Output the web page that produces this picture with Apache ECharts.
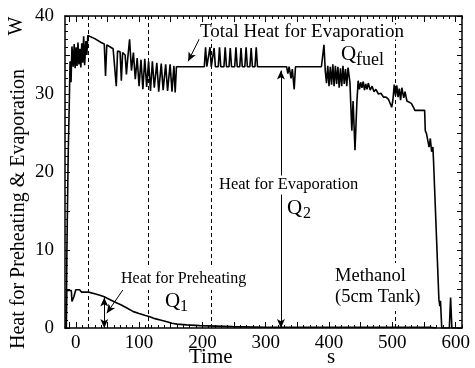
<!DOCTYPE html>
<html><head><meta charset="utf-8">
<script src="https://cdn.jsdelivr.net/npm/echarts@6/dist/echarts.min.js"></script>
<style>html,body{margin:0;padding:0;background:#fff}#c{width:475px;height:368px}</style>
</head><body><div id="c"></div>
<script>
// ---- data ----
const timeFuel = [-15,-14,-12,-10,-9,-7.5,-6,-4,-2.5,-1,0.5,2,3.5,5,6.5,8,9.5,11,12.5,14,16,17.5,19,30,40,45,47,49,55,59,62,64,66,70,72,74,78,80,82,85,88,91,94,97,100,103,106,109,112,115,118,121,124,128,131,135,138,142,145,149,152,155,157,159,
  203,205,207, 210,212,214, 216.5,218.5,220.5, 225,227,229, 234,236,238, 242,244,246, 251,253,255, 259,261,263, 267,269,271, 275,277,279, 283,285,287,
  333,335,337,340,342,345,347,388,390,392,394,396,398,400,402,404,406,408,410,412,414,416,418,420,422,424,426,428,430,433,436,438,441,444,446,448,450,452,454,456,458,460,462,465,468,471,474,478,482,486,490,494,497,499,501,503,505,507,509,511,513,515,518,520,523,526,530,534,535.5,551,552,554,556,558,560,562,564,565,573.5,575,576,578,590,592,594,610];
const qFuel = [0,10,22,29.8,34.2,31.5,36.1,33.5,36.4,33.3,36.0,33.6,36.6,33.8,35.8,33.4,36.5,34,37.4,33.7,36.8,35,37.5,37.1,36.6,36.4,32.3,36.3,36.0,35.8,35.7,31.0,35.5,35.4,31.7,35.3,35.0,32.5,34.5,37.0,33.0,35.3,31.9,34.6,31.0,34.4,30.6,34.5,30.9,34.2,30.4,34.2,30.8,34.0,30.3,33.9,30.5,33.8,30.4,33.8,30.3,33.6,30.2,33.5,
  33.5,36.0,33.5, 33.5,36.0,33.5, 33.5,35.9,33.5, 33.5,36.0,33.5, 33.5,36.0,33.5, 33.5,35.9,33.5, 33.5,36.0,33.5, 33.5,35.9,33.5, 33.5,36.0,33.5, 33.5,35.9,33.5, 33.5,36.0,33.5,
  33.5,32.6,33.5,32.0,33.2,30.6,33.5,33.5,34.9,36.3,33.0,31.4,33.6,31.0,33.5,31.2,33.8,31.0,33.6,31.3,33.5,30.8,33.3,31.0,33.6,31.3,33.2,31.0,33.4,31.5,25.3,29.1,22.8,29.0,31.7,30.6,31.5,30.8,31.6,30.5,31.3,30.6,31.4,30.5,31.0,30.3,30.6,30.0,30.1,29.6,29.6,29.3,29.5,28.3,29.3,31.2,29.8,31.1,29.6,30.7,29.2,30.8,29.5,30.3,29.1,29.3,28.8,28.2,27.9,27.9,25.3,24.9,25.0,23.2,24.3,22.6,23.2,21.5,3.7,2.8,3.5,0,0,3.9,0,0];
const timePre = [-15,-14.5,-7,-6,-3,0,3,6,9,12,16,20,30,38,45,55,65,72,80,91,100,110,117,125,135,144,152,160,175,196,248,300,560,570];
const qPre = [0,4.8,4.8,3.4,4.0,4.9,4.8,4.9,4.6,4.8,4.6,4.6,4.4,4.2,4.0,3.6,3.2,2.95,2.6,2.1,1.85,1.6,1.45,1.2,1.0,0.8,0.6,0.5,0.4,0.3,0.17,0.1,0.1,0];
const dashedTimes = [20, 115, 214, 504];
const xTicks = [0,100,200,300,400,500,600];
const yTicks = [0,10,20,30,40];
const xMid = [-10,0,50,100,150,200,250,300,350,400,450,500,550,600];
const xMinor = [];
for (let v = -10; v <= 610; v += 10) xMinor.push(v);

const FONT = 'Liberation Serif';
const pairs = (xs, ys) => xs.map((x, i) => [x, ys[i]]);
const XMIN = -17, XMAX = 610;

const chart = echarts.init(document.getElementById('c'), null, {renderer: 'canvas'});
const lab = {color:'#000', fontFamily: FONT, fontSize: 19};
function xAx(pos, ticks, len, showLine, labels) {
  return {type:'value', position: pos, min: XMIN, max: XMAX, gridIndex:0,
    axisLine:{show: showLine, onZero:false, lineStyle:{color:'#000', width:1.5}},
    axisTick:{show:true, inside:true, length: len, customValues: ticks, lineStyle:{color:'#000', width:1}},
    axisLabel: labels ? Object.assign({show:true, customValues: xTicks, margin: 6}, lab) : {show:false},
    splitLine:{show:false}};
}
function yAx(pos, labels) {
  return {type:'value', position: pos, min:0, max:40, interval:5,
    axisLine:{show:true, onZero:false, lineStyle:{color:'#000', width:1.5}},
    axisTick:{show:true, inside:true, length:5, lineStyle:{color:'#000', width:1}},
    minorTick:{show:true, splitNumber:5, length:3, lineStyle:{color:'#000', width:1}},
    axisLabel: labels ? Object.assign({show:true, customValues: yTicks, margin: 11}, lab) : {show:false},
    splitLine:{show:false}, minorSplitLine:{show:false}};
}
const arrowLine = (a, b, sym) => ({
  type:'line', data:[], xAxisIndex:0, yAxisIndex:0, silent:true,
  markLine:{silent:true, symbol: sym, symbolSize:[6,9], label:{show:false}, animation:false,
    lineStyle:{color:'#000', width:1, type:'solid'}, emphasis:{disabled:true},
    data:[[{coord:a},{coord:b}]]}
});
const txt = (text, x, y, size, opts) => Object.assign({type:'text', x, y, z:100,
  style: Object.assign({text, fontFamily: FONT, fontSize: size, fill:'#000', align:'left', verticalAlign:'middle'}, opts||{})});

chart.setOption({
  animation:false,
  backgroundColor:'#fff',
  grid:{left:65, right:13, top:16, bottom:40},
  xAxis:[xAx('bottom', xMid, 6, true, true), xAx('bottom', xMinor, 3, false, false),
         xAx('top', xMid, 6, true, false), xAx('top', xMinor, 3, false, false)],
  yAxis:[yAx('left', true), yAx('right', false)],
  series:[
    {type:'line', data: pairs(timeFuel, qFuel), showSymbol:false, symbol:'none', z:5,
     lineStyle:{color:'#000', width:1.6}},
    {type:'line', data: pairs(timePre, qPre), showSymbol:false, symbol:'none', z:5,
     lineStyle:{color:'#000', width:1.6}},
    {type:'line', data:[], silent:true,
     markLine:{silent:true, symbol:'none', label:{show:false}, animation:false,
       lineStyle:{color:'#000', width:1, type:[4,3]},
       data: dashedTimes.map(t => ({xAxis: t}))}},
    arrowLine([324, 33.0], [324, 0], ['arrow','arrow']),
    arrowLine([45, 3.9], [45, 0], ['arrow','arrow']),
    arrowLine([196, 37.2], [177.5, 34.2], ['none','arrow']),
    arrowLine([78, 5.3], [49, 1.9], ['none','arrow'])
  ],
  graphic:[
    txt('Total Heat for Evaporation', 199, 32, 19, {backgroundColor:'#fff', lineHeight:15, padding:[0,1]}),
    txt('Q', 341, 54, 21),
    txt('fuel', 356, 60, 18),
    txt('Heat for Evaporation', 217, 185, 16.5, {backgroundColor:'#fff', padding:[1,2]}),
    txt('Q', 287, 208, 21),
    txt('2', 303, 214, 16),
    txt('Heat for Preheating', 119, 279, 16, {backgroundColor:'#fff', padding:[3,2]}),
    txt('Q', 165, 301, 21),
    txt('1', 180, 307, 16),
    txt('Methanol\n(5cm Tank)', 333, 287, 18.5, {backgroundColor:'#fff', lineHeight:21, padding:[3,2]}),
    txt('Time', 189, 357, 21),
    txt('s', 327, 357, 21),
    {type:'text', x:19, y:209, rotation: Math.PI/2, z:100,
     style:{text:'Heat for Preheating & Evaporation', fontFamily:FONT, fontSize:20, fill:'#000', align:'center', verticalAlign:'middle'}},
    {type:'text', x:17, y:26, rotation: Math.PI/2, z:100,
     style:{text:'W', fontFamily:FONT, fontSize:20, fill:'#000', align:'center', verticalAlign:'middle'}}
  ]
});
</script></body></html>
